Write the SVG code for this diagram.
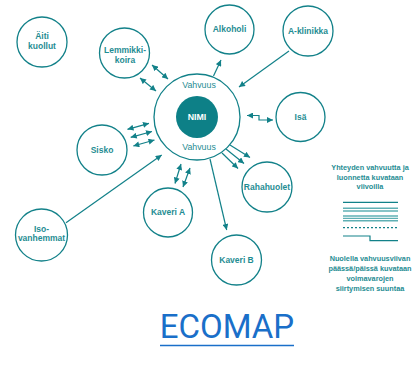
<svg xmlns="http://www.w3.org/2000/svg" width="416" height="368" viewBox="0 0 416 368">
<defs>
<marker id="ah" viewBox="0 0 10 10" refX="10" refY="5" markerWidth="6.5" markerHeight="6" orient="auto-start-reverse" markerUnits="userSpaceOnUse">
<path d="M0,0 L10,5 L0,10 Z" fill="#128189"/>
</marker>
<style>
.n{fill:#fff;stroke:#128189;stroke-width:1.3}
.t{font-family:"Liberation Sans",Arial,sans-serif;font-weight:bold;font-size:8.5px;fill:#1f8d93;text-anchor:middle;dominant-baseline:middle}
.c{stroke:#128189;stroke-width:1.2;fill:none}
.s{marker-end:url(#ah)}
.d{marker-start:url(#ah);marker-end:url(#ah)}
.lg{font-family:"Liberation Sans",Arial,sans-serif;font-weight:bold;font-size:7.3px;fill:#1f8d93;text-anchor:middle}
.ll{stroke:#128189;stroke-width:1.3}
.l2{stroke:#5fb0b4;stroke-width:1.4}
</style>
</defs>
<rect width="416" height="368" fill="#fff"/>
<g id="connectors">
<line class="c d" x1="152" y1="65" x2="168" y2="79"/>
<line class="c d" x1="140" y1="78" x2="156" y2="91"/>
<line class="c d" x1="127.5" y1="129.3" x2="149" y2="123.3"/>
<line class="c d" x1="130.7" y1="137.3" x2="152" y2="131.5"/>
<line class="c d" x1="133.3" y1="146" x2="154.5" y2="140"/>
<line class="c d" x1="181" y1="164" x2="175" y2="183.5"/>
<line class="c d" x1="190" y1="168" x2="183" y2="187"/>
<line class="c s" x1="230" y1="145" x2="250" y2="157.5"/>
<line class="c s" x1="226" y1="149" x2="244" y2="163.5"/>
<line class="c s" x1="222" y1="153" x2="238" y2="168.5"/>
<line class="c s" x1="213.5" y1="76" x2="221" y2="60"/>
<line class="c s" x1="289" y1="51" x2="239" y2="87"/>
<polyline class="c d" points="247,115.5 259,115.5 259,120 273,120"/>
<line class="c s" x1="66" y1="222.7" x2="161.7" y2="155"/>
<line class="c s" x1="210" y1="159" x2="226.7" y2="230"/>
</g>
<g id="center">
<circle class="n" cx="197" cy="117" r="43"/>
<circle cx="197" cy="117" r="21" fill="#0d8087"/>
<text class="t" x="199" y="86" style="font-weight:normal;font-size:8.8px">Vahvuus</text>
<text class="t" x="197" y="117.5" style="fill:#fff;font-size:8.8px">NIMI</text>
<text class="t" x="199" y="148" style="font-weight:normal;font-size:8.8px">Vahvuus</text>
</g>
<g id="aiti"><circle class="n" cx="42" cy="42" r="25"/><text class="t" x="42" y="37">Äiti</text><text class="t" x="42" y="47">kuollut</text></g>
<g id="lemmikki"><circle class="n" cx="124.5" cy="53" r="25"/><text class="t" x="125" y="51">Lemmikki-</text><text class="t" x="125" y="61">koira</text></g>
<g id="alkoholi"><circle class="n" cx="229.5" cy="29.5" r="24.5"/><text class="t" x="229.5" y="30">Alkoholi</text></g>
<g id="aklinikka"><circle class="n" cx="308" cy="31" r="25"/><text class="t" x="308" y="32">A-klinikka</text></g>
<g id="isa"><circle class="n" cx="300.5" cy="117" r="24.5"/><text class="t" x="300.5" y="117.5">Isä</text></g>
<g id="sisko"><circle class="n" cx="102" cy="150" r="25"/><text class="t" x="102" y="150.5">Sisko</text></g>
<g id="kaveria"><circle class="n" cx="168" cy="212.5" r="24.5"/><text class="t" x="168" y="213">Kaveri A</text></g>
<g id="isovanhemmat"><circle class="n" cx="41.5" cy="235" r="26"/><text class="t" x="41.5" y="230">Iso-</text><text class="t" x="41.5" y="239">vanhemmat</text></g>
<g id="rahahuolet"><circle class="n" cx="267" cy="187" r="25"/><text class="t" x="267" y="187.5">Rahahuolet</text></g>
<g id="kaverib"><circle class="n" cx="236.5" cy="260" r="25"/><text class="t" x="236.5" y="260.5">Kaveri B</text></g>
<g id="legend">
<text class="lg" x="370" y="169.5">Yhteyden vahvuutta ja</text>
<text class="lg" x="370" y="179.5">luonnetta kuvataan</text>
<text class="lg" x="370" y="189">viivoilla</text>
<line class="ll" x1="343" y1="202.3" x2="398" y2="202.3"/>
<line class="l2" x1="343" y1="208.3" x2="398" y2="208.3"/>
<line class="l2" x1="343" y1="211" x2="398" y2="211"/>
<line class="l2" x1="343" y1="216" x2="398" y2="216"/>
<line class="l2" x1="343" y1="218.4" x2="398" y2="218.4"/>
<line class="l2" x1="343" y1="220.8" x2="398" y2="220.8"/>
<line class="ll" x1="343" y1="227.7" x2="398" y2="227.7" stroke-dasharray="2,2" stroke-width="1"/>
<polyline class="c" points="343,236 370,236 370,240.7 398,240.7"/>
<text class="lg" x="370" y="261">Nuolella vahvuusviivan</text>
<text class="lg" x="370" y="271">päässä/päissä kuvataan</text>
<text class="lg" x="370" y="281">voimavarojen</text>
<text class="lg" x="370" y="291">siirtymisen suuntaa</text>
</g>
<g id="title">
<text x="227" y="338" font-family="Roboto, 'Liberation Sans', sans-serif" font-size="33" font-weight="400" fill="#1a6fc9" text-anchor="middle">ECOMAP</text>
<line x1="160" y1="345.5" x2="294" y2="345.5" stroke="#1a6fc9" stroke-width="1.5"/>
</g>
</svg>
